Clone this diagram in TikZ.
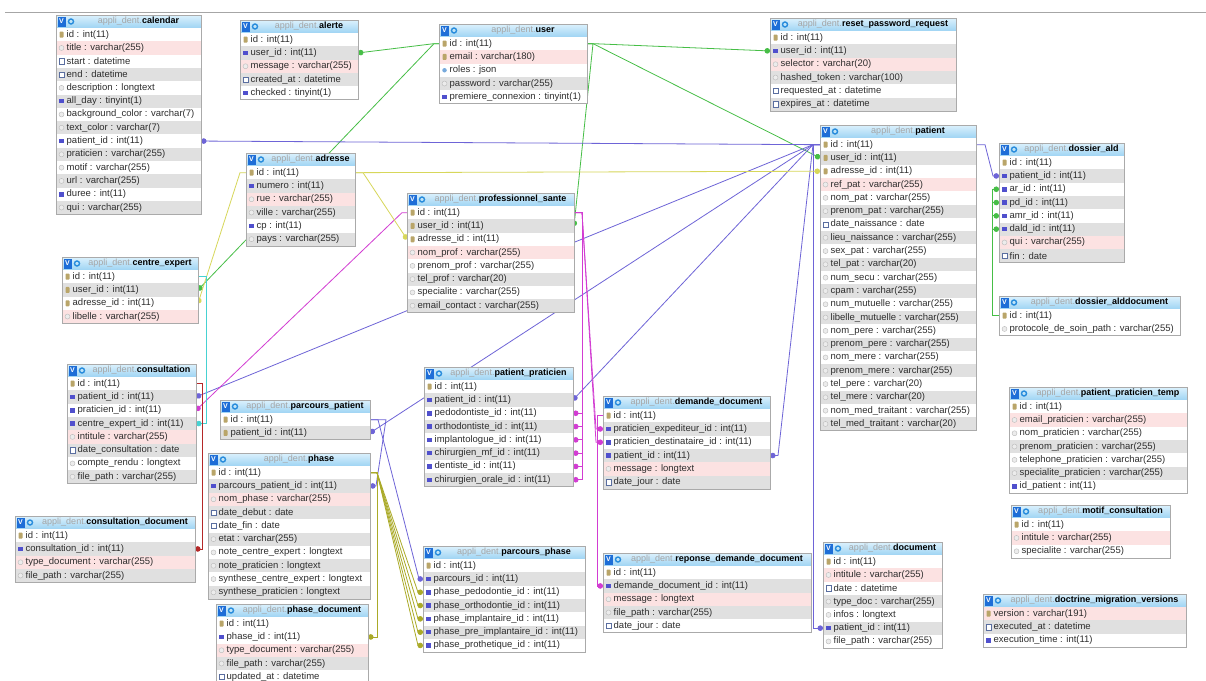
\documentclass[tikz,border=0pt]{standalone}
\usepackage{fontspec}
\setmainfont{Liberation Sans}
\usepackage{tikz}
\usetikzlibrary{calc,arrows.meta}

\definecolor{lngreen}{RGB}{70,190,70}
\definecolor{lnblue}{RGB}{110,100,215}
\definecolor{lnmag}{RGB}{210,60,210}
\definecolor{lnyel}{RGB}{215,215,90}
\definecolor{lnolive}{RGB}{170,170,40}
\definecolor{lncyan}{RGB}{70,210,210}
\definecolor{lnred}{RGB}{180,40,40}
\definecolor{rowgray}{RGB}{224,224,224}
\definecolor{rowpink}{RGB}{252,226,226}
\definecolor{rowtext}{RGB}{45,45,45}
\definecolor{dbgray}{RGB}{165,165,165}
\definecolor{framegray}{RGB}{170,170,170}
\definecolor{headtop}{RGB}{220,241,253}
\definecolor{headbot}{RGB}{158,212,243}
\definecolor{vblue}{RGB}{30,110,215}
\definecolor{oblue}{RGB}{40,140,220}
\definecolor{keytan}{RGB}{185,165,105}
\definecolor{intblue}{RGB}{80,80,205}
\definecolor{dateblue}{RGB}{90,110,160}
\definecolor{jsonblue}{RGB}{120,170,220}

\pgfdeclarelayer{bg}
\pgfsetlayers{bg,main}

\tikzset{
  tblhead/.style={draw=framegray, top color=headtop, bottom color=headbot,
    minimum height=13pt, inner sep=0, outer sep=0},
  tblrow/.style={minimum height=13.3pt, inner sep=0, outer sep=0},
  tblframe/.style={draw=framegray, line width=0.6pt},
  rw/.style={fill=white},
  rg/.style={fill=rowgray},
  rp/.style={fill=rowpink},
  rowtxt/.style={anchor=west, inner sep=0, text=rowtext, font=\fontsize{9.5}{10}\selectfont},
  headtxt/.style={inner sep=0, font=\fontsize{9}{10}\selectfont},
  vicon/.style={fill=vblue, text=white, font=\bfseries\fontsize{7}{7}\selectfont,
    minimum width=8pt, minimum height=10pt, inner sep=0},
  oicon/.style={circle, draw=oblue, line width=1.4pt, minimum size=5pt, inner sep=0},
  ik/.style={fill=keytan, rounded corners=0.8pt, minimum width=4pt, minimum height=6pt, inner sep=0},
  ib/.style={fill=intblue, minimum size=4.5pt, inner sep=0},
  ic/.style={circle, draw=gray!55, fill=gray!15, minimum size=5pt, inner sep=0},
  idt/.style={draw=dateblue, fill=white, minimum size=5.5pt, inner sep=0},
  ij/.style={circle, fill=jsonblue, minimum size=4.5pt, inner sep=0},
  conn/.style={line width=0.8pt},
  fk/.style={conn, -{Circle[length=5.5pt]}}
}

% table: name, x, y, width, title, rows (text/icon/fill)
\newcommand{\dbtable}[6]{%
  \node[tblhead, minimum width=#4pt, anchor=north west] (#1) at (#2,#3) {};
  \node[vicon] at ($(#1.west)+(5.5,0)$) {V};
  \node[oicon] at ($(#1.west)+(15,0)$) {};
  \node[headtxt] at ($(#1.center)+(10,0)$) {{\color{dbgray}appli\_dent.}\textbf{#5}};
  \foreach \rtext/\ricon/\rfill [count=\rn] in {#6}{%
    \node[tblrow, \rfill, minimum width=#4pt, anchor=north west] (#1-\rn)
      at ($(#1.south west)+(0,{(\rn-1)*13.3})$) {};
    \node[\ricon] at ($(#1-\rn.west)+(5.5,0)$) {};
    \node[rowtxt] at ($(#1-\rn.west)+(10.5,0)$) {\rtext};
    \xdef\lastrow{\rn}
  }
  \draw[tblframe] (#1.north west) rectangle (#1-\lastrow.south east);
}

\begin{document}
\begin{tikzpicture}[x=1pt, y=-1pt]
    \useasboundingbox (0,0) rectangle (1206,680);

    % Top rule
    \draw[gray!70, line width=0.8pt] (5,12) -- (1206,12);

    % Tables, left column
    \dbtable{cal}{56}{15}{145}{calendar}{
      id : int(11)/ik/rw, title : varchar(255)/ic/rp, start : datetime/idt/rw,
      end : datetime/idt/rg, description : longtext/ic/rw, all\_day : tinyint(1)/ib/rg,
      background\_color : varchar(7)/ic/rw, text\_color : varchar(7)/ic/rg,
      patient\_id : int(11)/ib/rw, praticien : varchar(255)/ic/rg, motif : varchar(255)/ic/rw,
      url : varchar(255)/ic/rg, duree : int(11)/ib/rw, qui : varchar(255)/ic/rg}
    \dbtable{cex}{62}{257}{136}{centre\_expert}{
      id : int(11)/ik/rw, user\_id : int(11)/ik/rg, adresse\_id : int(11)/ik/rw,
      libelle : varchar(255)/ic/rp}
    \dbtable{cst}{67}{364}{129}{consultation}{
      id : int(11)/ik/rw, patient\_id : int(11)/ib/rg, praticien\_id : int(11)/ib/rw,
      centre\_expert\_id : int(11)/ib/rg, intitule : varchar(255)/ic/rp,
      date\_consultation : date/idt/rg, compte\_rendu : longtext/ic/rw,
      file\_path : varchar(255)/ic/rg}
    \dbtable{cdo}{15}{516}{180}{consultation\_document}{
      id : int(11)/ik/rw, consultation\_id : int(11)/ib/rg,
      type\_document : varchar(255)/ic/rp, file\_path : varchar(255)/ic/rg}

    % Tables, second column
    \dbtable{alt}{240}{20}{118}{alerte}{
      id : int(11)/ik/rw, user\_id : int(11)/ib/rg, message : varchar(255)/ic/rp,
      created\_at : datetime/idt/rg, checked : tinyint(1)/ib/rw}
    \dbtable{adr}{246}{153}{109}{adresse}{
      id : int(11)/ik/rw, numero : int(11)/ib/rg, rue : varchar(255)/ic/rp,
      ville : varchar(255)/ic/rg, cp : int(11)/ib/rw, pays : varchar(255)/ic/rg}
    \dbtable{ppa}{220}{400}{150}{parcours\_patient}{
      id : int(11)/ik/rw, patient\_id : int(11)/ik/rg}
    \dbtable{pha}{208}{453}{162}{phase}{
      id : int(11)/ik/rw, parcours\_patient\_id : int(11)/ib/rg, nom\_phase : varchar(255)/ic/rp,
      date\_debut : date/idt/rg, date\_fin : date/idt/rw, etat : varchar(255)/ic/rg,
      note\_centre\_expert : longtext/ic/rw, note\_praticien : longtext/ic/rg,
      synthese\_centre\_expert : longtext/ic/rw, synthese\_praticien : longtext/ic/rg}
    \dbtable{phd}{216}{604}{152}{phase\_document}{
      id : int(11)/ik/rw, phase\_id : int(11)/ib/rw, type\_document : varchar(255)/ic/rp,
      file\_path : varchar(255)/ic/rg, updated\_at : datetime/idt/rw}

    % Tables, middle
    \dbtable{usr}{439}{24}{148}{user}{
      id : int(11)/ik/rw, email : varchar(180)/ik/rp, roles : json/ij/rw,
      password : varchar(255)/ic/rg, premiere\_connexion : tinyint(1)/ib/rw}
    \dbtable{pro}{407}{193}{167}{professionnel\_sante}{
      id : int(11)/ik/rw, user\_id : int(11)/ik/rg, adresse\_id : int(11)/ik/rw,
      nom\_prof : varchar(255)/ic/rp, prenom\_prof : varchar(255)/ic/rw,
      tel\_prof : varchar(20)/ic/rg, specialite : varchar(255)/ic/rw,
      email\_contact : varchar(255)/ic/rg}
    \dbtable{ppr}{424}{367}{149}{patient\_praticien}{
      id : int(11)/ik/rw, patient\_id : int(11)/ib/rg, pedodontiste\_id : int(11)/ib/rw,
      orthodontiste\_id : int(11)/ib/rg, implantologue\_id : int(11)/ib/rw,
      chirurgien\_mf\_id : int(11)/ib/rg, dentiste\_id : int(11)/ib/rw,
      chirurgien\_orale\_id : int(11)/ib/rg}
    \dbtable{pph}{423}{546}{162}{parcours\_phase}{
      id : int(11)/ik/rw, parcours\_id : int(11)/ib/rg, phase\_pedodontie\_id : int(11)/ib/rw,
      phase\_orthodontie\_id : int(11)/ib/rg, phase\_implantaire\_id : int(11)/ib/rw,
      phase\_pre\_implantaire\_id : int(11)/ib/rg, phase\_prothetique\_id : int(11)/ib/rw}
    \dbtable{ddm}{603}{396}{167}{demande\_document}{
      id : int(11)/ik/rw, praticien\_expediteur\_id : int(11)/ib/rg,
      praticien\_destinataire\_id : int(11)/ib/rw, patient\_id : int(11)/ib/rg,
      message : longtext/ic/rp, date\_jour : date/idt/rg}
    \dbtable{rdd}{603}{553}{208}{reponse\_demande\_document}{
      id : int(11)/ik/rw, demande\_document\_id : int(11)/ib/rg, message : longtext/ic/rp,
      file\_path : varchar(255)/ic/rg, date\_jour : date/idt/rw}

    % Tables, right
    \dbtable{rst}{770}{18}{186}{reset\_password\_request}{
      id : int(11)/ik/rw, user\_id : int(11)/ib/rg, selector : varchar(20)/ic/rp,
      hashed\_token : varchar(100)/ic/rg, requested\_at : datetime/idt/rw,
      expires\_at : datetime/idt/rg}
    \dbtable{pat}{820}{125}{156}{patient}{
      id : int(11)/ik/rw, user\_id : int(11)/ik/rg, adresse\_id : int(11)/ik/rw,
      ref\_pat : varchar(255)/ic/rp, nom\_pat : varchar(255)/ic/rw,
      prenom\_pat : varchar(255)/ic/rg, date\_naissance : date/idt/rw,
      lieu\_naissance : varchar(255)/ic/rg, sex\_pat : varchar(255)/ic/rw,
      tel\_pat : varchar(20)/ic/rg, num\_secu : varchar(255)/ic/rw, cpam : varchar(255)/ic/rg,
      num\_mutuelle : varchar(255)/ic/rw, libelle\_mutuelle : varchar(255)/ic/rg,
      nom\_pere : varchar(255)/ic/rw, prenom\_pere : varchar(255)/ic/rg,
      nom\_mere : varchar(255)/ic/rw, prenom\_mere : varchar(255)/ic/rg,
      tel\_pere : varchar(20)/ic/rw, tel\_mere : varchar(20)/ic/rg,
      nom\_med\_traitant : varchar(255)/ic/rw, tel\_med\_traitant : varchar(20)/ic/rg}
    \dbtable{doc}{823}{542}{119}{document}{
      id : int(11)/ik/rw, intitule : varchar(255)/ic/rp, date : datetime/idt/rw,
      type\_doc : varchar(255)/ic/rg, infos : longtext/ic/rw, patient\_id : int(11)/ib/rg,
      file\_path : varchar(255)/ic/rw}
    \dbtable{ald}{999}{143}{125}{dossier\_ald}{
      id : int(11)/ik/rw, patient\_id : int(11)/ib/rg, ar\_id : int(11)/ib/rw,
      pd\_id : int(11)/ib/rg, amr\_id : int(11)/ib/rw, dald\_id : int(11)/ib/rg,
      qui : varchar(255)/ic/rp, fin : date/idt/rg}
    \dbtable{ado}{999}{296}{181}{dossier\_alddocument}{
      id : int(11)/ik/rw, protocole\_de\_soin\_path : varchar(255)/ic/rw}
    \dbtable{ppt}{1009}{387}{178}{patient\_praticien\_temp}{
      id : int(11)/ik/rw, email\_praticien : varchar(255)/ic/rp,
      nom\_praticien : varchar(255)/ic/rw, prenom\_praticien : varchar(255)/ic/rg,
      telephone\_praticien : varchar(255)/ic/rw, specialite\_praticien : varchar(255)/ic/rg,
      id\_patient : int(11)/ib/rw}
    \dbtable{mot}{1011}{505}{159}{motif\_consultation}{
      id : int(11)/ik/rw, intitule : varchar(255)/ic/rp, specialite : varchar(255)/ic/rw}
    \dbtable{dmv}{983}{594}{203}{doctrine\_migration\_versions}{
      version : varchar(191)/ik/rp, executed\_at : datetime/idt/rg,
      execution\_time : int(11)/ib/rw}

    % Relations, behind the tables
    \begin{pgfonlayer}{bg}
        \fill[white] (0,0) rectangle (1206,680);
        \coordinate (hub) at ($(pat-1.west)+(-7,0)$);

        % user
        \draw[fk, lngreen] (usr-1.west) -- ++(-5,0) -- (alt-2.east);
        \draw[fk, lngreen] (usr-1.west) -- ++(-5,0) -- (cex-2.east);
        \draw[fk, lngreen] (usr-1.east) -- ++(6,0) -- (pro-2.east);
        \draw[fk, lngreen] (usr-1.east) -- ++(6,0) -- (rst-2.west);
        \draw[fk, lngreen] (usr-1.east) -- ++(6,0) -- (pat-2.west);
        \foreach \k in {3,...,6}
            \draw[fk, lngreen] (ado-1.west) -- ++(-7,0) |- (ald-\k.west);

        % patient
        \draw[fk, lnblue] (pat-1.west) -- (hub) -- (cal-9.east);
        \draw[fk, lnblue] (pat-1.west) -- (hub) -- (cst-2.east);
        \draw[fk, lnblue] (pat-1.west) -- (hub) -- (ppa-2.east);
        \draw[fk, lnblue] (pat-1.west) -- (hub) -- (ppr-2.east);
        \draw[fk, lnblue] (pat-1.west) -- (hub) -- ($(ddm-4.east)+(8,0)$) -- (ddm-4.east);
        \draw[fk, lnblue] (pat-1.west) -- (hub) |- (doc-6.west);
        \draw[fk, lnblue] (pat-1.east) -- ++(9,0) -- ($(ald-2.west)+(-6,0)$) -- (ald-2.west);

        % parcours_patient
        \draw[fk, lnblue] (ppa-1.east) -- ++(8,0) -- ($(pph-2.west)+(-4,0)$) -- (pph-2.west);
        \draw[fk, lnblue] (ppa-1.east) -- ++(16,0) -- ($(pha-2.east)+(6,0)$) -- (pha-2.east);

        % professionnel_sante
        \draw[fk, lnmag] (pro-1.west) -- ++(-5,0) -- (cst-3.east);
        \foreach \k in {3,...,8}
            \draw[fk, lnmag] (pro-1.east) -- ++(8,0) |- (ppr-\k.east);
        \foreach \k in {2,3}
            \draw[fk, lnmag] (pro-1.east) -- ++(8,0) -- ($(ddm-\k.west)+(-7,0)$) -- (ddm-\k.west);
        \draw[fk, lnmag] (ddm-1.west) -- ++(-6,0) |- (rdd-2.west);

        % adresse
        \draw[fk, lnyel] (adr-1.west) -- ++(-6,0) -- (cex-3.east);
        \draw[fk, lnyel] (adr-1.east) -- ++(8,0) -- (pro-3.west);
        \draw[fk, lnyel] (adr-1.east) -- ++(8,0) -- (pat-3.west);

        % phase
        \draw[fk, lnolive] (pha-1.east) -- ++(7,0) |- (phd-2.east);
        \foreach \k in {3,...,7}
            \draw[fk, lnolive] (pha-1.east) -- ++(7,0) -- ($(pph-\k.west)+(-5,0)$) -- (pph-\k.west);

        % consultation
        \draw[fk, lncyan] (cex-1.east) -- ++(8,0) |- (cst-4.east);
        \draw[fk, lnred] (cst-1.east) -- ++(6,0) |- (cdo-2.east);
    \end{pgfonlayer}
\end{tikzpicture}
\end{document}
